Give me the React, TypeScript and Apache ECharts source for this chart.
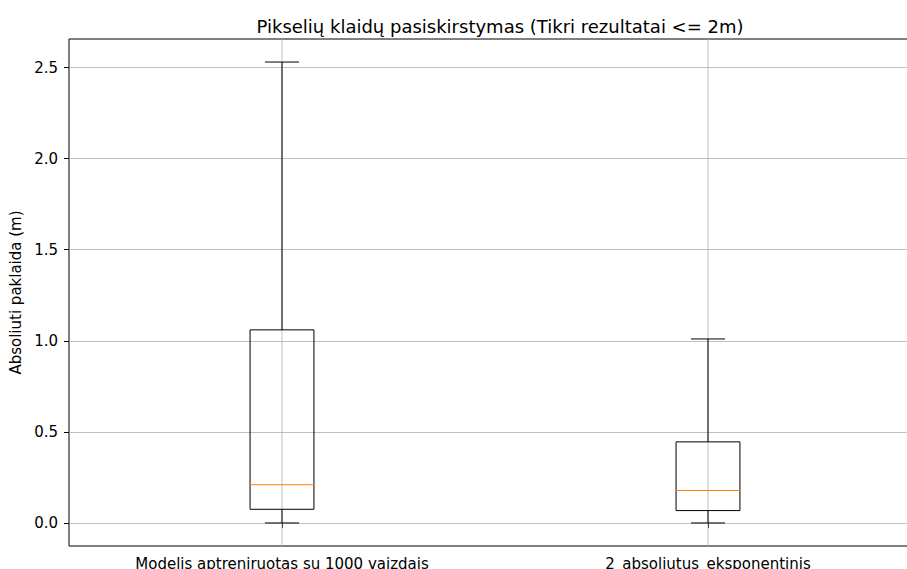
import React, { useEffect, useRef } from "react";
import * as echarts from "echarts";

const categories = ["Modelis aptreniruotas su 1000 vaizdais", "2_absoliutus_eksponentinis"];
// [whiskerLow, Q1, median, Q3, whiskerHigh]
const boxStats = [
  [0.0, 0.075, 0.21, 1.06, 2.53],
  [0.0, 0.068, 0.178, 0.445, 1.01],
];
const yTicks = [0, 0.5, 1.0, 1.5, 2.0, 2.5];
const yMin = -0.1265;
const yMax = 2.6565;

const FONT = "DejaVu Sans";

export default function App() {
  const ref = useRef<HTMLDivElement>(null);
  useEffect(() => {
    const chart = echarts.init(ref.current!, null, { renderer: "svg" });
    chart.setOption({
      animation: false,
      backgroundColor: "#fff",
      title: {
        text: "Pikselių klaidų pasiskirstymas (Tikri rezultatai <= 2m)",
        left: 495,
        textAlign: "center",
        top: 12,
        textStyle: { fontFamily: FONT, fontSize: 18, fontWeight: "normal", color: "#000" },
      },
      grid: {
        left: 69,
        top: 39,
        width: 852,
        height: 507,
        outerBoundsMode: "none",
        containLabel: false,
        show: true,
        borderColor: "#000",
        borderWidth: 1,
        backgroundColor: "transparent",
      },
      xAxis: {
        type: "category",
        data: categories,
        boundaryGap: true,
        axisLine: { show: false },
        axisTick: { show: true, alignWithLabel: true, length: 5, lineStyle: { color: "#000" } },
        axisLabel: { margin: 10, fontFamily: FONT, fontSize: 15, color: "#000", interval: 0 },
        splitLine: { show: false },
      },
      yAxis: {
        type: "value",
        min: yMin,
        max: yMax,
        name: "Absoliuti paklaida (m)",
        nameLocation: "middle",
        nameGap: 42,
        nameTextStyle: { fontFamily: FONT, fontSize: 15, color: "#000" },
        axisLine: { show: false },
        axisTick: { show: true, length: 5, customValues: yTicks, lineStyle: { color: "#000" } },
        axisLabel: {
          customValues: yTicks,
          margin: 11,
          fontFamily: FONT,
          fontSize: 15,
          color: "#000",
          formatter: (v: number) => v.toFixed(1),
        },
        splitLine: { show: true, lineStyle: { color: "#b0b0b0", width: 0.8 } },
      },
      series: [
        {
          type: "custom",
          data: boxStats.map((s, i) => [i, ...s]),
          encode: { x: 0, y: [1, 2, 3, 4, 5] },
          renderItem: (params: any, api: any) => {
            const i = api.value(0);
            const cs = params.coordSys;
            const band = api.size([1, 0])[0];
            const bw = band * 0.15;
            const cw = band * 0.08;
            const lo = api.coord([i, api.value(1)]);
            const q1 = api.coord([i, api.value(2)]);
            const med = api.coord([i, api.value(3)]);
            const q3 = api.coord([i, api.value(4)]);
            const hi = api.coord([i, api.value(5)]);
            const x = lo[0];
            const black = { stroke: "#000", lineWidth: 1, fill: null };
            return {
              type: "group",
              children: [
                {
                  type: "line",
                  shape: { x1: x, y1: cs.y, x2: x, y2: cs.y + cs.height },
                  style: { stroke: "#b0b0b0", lineWidth: 0.8 },
                },
                { type: "line", shape: { x1: x, y1: q1[1], x2: x, y2: lo[1] }, style: black },
                { type: "line", shape: { x1: x, y1: q3[1], x2: x, y2: hi[1] }, style: black },
                { type: "line", shape: { x1: x - cw / 2, y1: lo[1], x2: x + cw / 2, y2: lo[1] }, style: black },
                { type: "line", shape: { x1: x - cw / 2, y1: hi[1], x2: x + cw / 2, y2: hi[1] }, style: black },
                {
                  type: "rect",
                  shape: { x: x - bw / 2, y: q3[1], width: bw, height: q1[1] - q3[1] },
                  style: { stroke: "#000", lineWidth: 1, fill: "none" },
                },
                {
                  type: "line",
                  shape: { x1: x - bw / 2, y1: med[1], x2: x + bw / 2, y2: med[1] },
                  style: { stroke: "#ff7f0e", lineWidth: 1 },
                },
              ],
            };
          },
        },
      ],
    });
    return () => chart.dispose();
  }, []);
  return <div ref={ref} style={{ width: 907, height: 569, position: "absolute", left: 0, top: 0 }} />;
}
